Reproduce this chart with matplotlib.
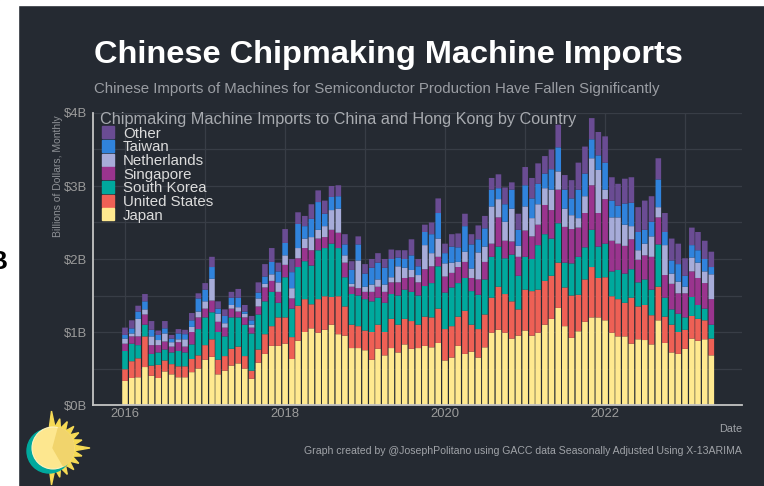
import numpy as np
import pandas as pd
import matplotlib
matplotlib.use("Agg")
import matplotlib.pyplot as plt
import matplotlib.dates as mdates
from matplotlib.patches import Rectangle, Circle, Wedge, Polygon

# ---------------- data (billions of US$, monthly) ----------------
months = pd.date_range("2016-01-01", periods=89, freq="MS")

japan = [0.33, 0.37, 0.38, 0.52, 0.40, 0.37, 0.46, 0.42, 0.38, 0.38, 0.45, 0.50,
         0.62, 0.66, 0.42, 0.47, 0.54, 0.57, 0.50, 0.36, 0.58, 0.70, 0.81, 0.81,
         0.84, 0.63, 0.88, 1.00, 1.05, 0.99, 1.03, 1.10, 0.97, 0.95, 0.78, 0.78,
         0.75, 0.62, 0.77, 0.68, 0.78, 0.72, 0.83, 0.77, 0.78, 0.81, 0.79, 0.85,
         0.61, 0.65, 0.81, 0.70, 0.73, 0.65, 0.79, 0.99, 1.03, 0.99, 0.91, 0.95,
         1.02, 0.95, 0.99, 1.10, 1.18, 1.33, 1.08, 0.92, 1.01, 1.14, 1.20, 1.20,
         1.16, 0.99, 0.94, 0.94, 0.84, 0.90, 0.89, 0.83, 1.16, 0.85, 0.72, 0.70,
         0.77, 0.91, 0.88, 0.90, 0.68]
united_states = [0.16, 0.23, 0.26, 0.42, 0.14, 0.18, 0.15, 0.14, 0.15, 0.15, 0.18, 0.18,
                 0.20, 0.24, 0.20, 0.20, 0.23, 0.23, 0.17, 0.11, 0.18, 0.27, 0.27, 0.39,
                 0.36, 0.30, 0.48, 0.45, 0.33, 0.46, 0.46, 0.38, 0.52, 0.40, 0.32, 0.30,
                 0.27, 0.38, 0.33, 0.32, 0.40, 0.38, 0.35, 0.38, 0.32, 0.40, 0.41, 0.47,
                 0.43, 0.43, 0.40, 0.59, 0.37, 0.39, 0.45, 0.48, 0.59, 0.53, 0.51, 0.36,
                 0.56, 0.61, 0.59, 0.60, 0.59, 0.62, 0.53, 0.58, 0.50, 0.58, 0.69, 0.54,
                 0.59, 0.50, 0.51, 0.46, 0.63, 0.45, 0.48, 0.40, 0.46, 0.36, 0.38, 0.30,
                 0.26, 0.31, 0.30, 0.26, 0.23]
south_korea = [0.25, 0.24, 0.18, 0.16, 0.16, 0.17, 0.15, 0.16, 0.21, 0.19, 0.20, 0.36,
               0.38, 0.37, 0.38, 0.27, 0.43, 0.40, 0.43, 0.51, 0.48, 0.45, 0.47, 0.20,
               0.55, 0.39, 0.53, 0.52, 0.53, 0.67, 0.66, 0.73, 0.66, 0.40, 0.42, 0.42,
               0.43, 0.42, 0.37, 0.40, 0.34, 0.40, 0.40, 0.40, 0.40, 0.42, 0.47, 0.58,
               0.50, 0.53, 0.46, 0.45, 0.46, 0.47, 0.48, 0.56, 0.55, 0.49, 0.64, 0.46,
               0.45, 0.44, 0.61, 0.64, 0.51, 0.54, 0.34, 0.44, 0.52, 0.44, 0.51, 0.43,
               0.46, 0.34, 0.40, 0.40, 0.39, 0.33, 0.35, 0.35, 0.58, 0.26, 0.21, 0.25,
               0.17, 0.26, 0.19, 0.16, 0.19]
singapore = [0.10, 0.10, 0.12, 0.14, 0.12, 0.10, 0.11, 0.08, 0.12, 0.08, 0.17, 0.16,
             0.12, 0.16, 0.14, 0.12, 0.12, 0.08, 0.10, 0.08, 0.11, 0.19, 0.15, 0.15,
             0.17, 0.14, 0.12, 0.18, 0.21, 0.16, 0.15, 0.19, 0.21, 0.20, 0.10, 0.10,
             0.10, 0.13, 0.15, 0.15, 0.16, 0.18, 0.16, 0.20, 0.18, 0.23, 0.23, 0.13,
             0.22, 0.20, 0.22, 0.22, 0.18, 0.21, 0.24, 0.18, 0.40, 0.24, 0.18, 0.26,
             0.36, 0.31, 0.28, 0.40, 0.39, 0.46, 0.49, 0.47, 0.40, 0.47, 0.61, 0.46,
             0.61, 0.42, 0.36, 0.38, 0.41, 0.31, 0.33, 0.45, 0.37, 0.31, 0.35, 0.28,
             0.33, 0.35, 0.37, 0.35, 0.35]
netherlands = [0.07, 0.04, 0.24, 0.07, 0.12, 0.07, 0.11, 0.06, 0.04, 0.10, 0.07, 0.08,
               0.10, 0.30, 0.11, 0.06, 0.05, 0.06, 0.05, 0.04, 0.11, 0.05, 0.09, 0.13,
               0.13, 0.14, 0.14, 0.13, 0.18, 0.12, 0.15, 0.27, 0.33, 0.10, 0.04, 0.38,
               0.07, 0.10, 0.10, 0.10, 0.07, 0.22, 0.14, 0.10, 0.10, 0.33, 0.18, 0.25,
               0.18, 0.14, 0.07, 0.14, 0.13, 0.37, 0.21, 0.51, 0.25, 0.26, 0.45, 0.15,
               0.33, 0.25, 0.28, 0.23, 0.28, 0.25, 0.25, 0.19, 0.13, 0.23, 0.37, 0.59,
               0.13, 0.32, 0.36, 0.29, 0.18, 0.13, 0.16, 0.28, 0.14, 0.41, 0.14, 0.16,
               0.09, 0.19, 0.21, 0.16, 0.34]
taiwan = [0.05, 0.07, 0.10, 0.11, 0.09, 0.07, 0.07, 0.05, 0.08, 0.07, 0.09, 0.18,
          0.16, 0.16, 0.07, 0.10, 0.10, 0.13, 0.03, 0.06, 0.08, 0.10, 0.17, 0.15,
          0.17, 0.22, 0.33, 0.17, 0.25, 0.38, 0.17, 0.18, 0.17, 0.15, 0.19, 0.22,
          0.18, 0.23, 0.23, 0.23, 0.25, 0.12, 0.12, 0.20, 0.12, 0.18, 0.26, 0.35,
          0.14, 0.22, 0.20, 0.35, 0.33, 0.18, 0.25, 0.23, 0.15, 0.24, 0.26, 0.22,
          0.29, 0.27, 0.28, 0.20, 0.28, 0.33, 0.26, 0.23, 0.39, 0.31, 0.26, 0.20,
          0.37, 0.23, 0.16, 0.29, 0.32, 0.25, 0.19, 0.20, 0.38, 0.18, 0.18, 0.24,
          0.15, 0.17, 0.17, 0.17, 0.10]
other = [0.10, 0.11, 0.08, 0.10, 0.12, 0.06, 0.10, 0.05, 0.06, 0.06, 0.10, 0.07,
         0.09, 0.14, 0.10, 0.09, 0.08, 0.12, 0.09, 0.06, 0.14, 0.17, 0.19, 0.12,
         0.19, 0.18, 0.16, 0.14, 0.20, 0.16, 0.18, 0.15, 0.15, 0.14, 0.12, 0.11,
         0.13, 0.12, 0.13, 0.12, 0.13, 0.10, 0.12, 0.22, 0.10, 0.10, 0.16, 0.20,
         0.13, 0.17, 0.19, 0.17, 0.14, 0.19, 0.17, 0.16, 0.19, 0.23, 0.10, 0.22,
         0.25, 0.28, 0.28, 0.24, 0.27, 0.31, 0.20, 0.25, 0.37, 0.37, 0.29, 0.32,
         0.36, 0.32, 0.30, 0.34, 0.35, 0.34, 0.40, 0.35, 0.29, 0.26, 0.30, 0.28,
         0.24, 0.24, 0.25, 0.25, 0.21]

series_names = ["Japan", "United States", "South Korea", "Singapore",
                "Netherlands", "Taiwan", "Other"]
series_values = [japan, united_states, south_korea, singapore,
                 netherlands, taiwan, other]
series_colors = ["#FFE98F", "#EE6055", "#00A99D", "#9A348E",
                 "#A7ACD9", "#3083DC", "#6A4C93"]

y_ticks = [0, 1, 2, 3, 4]
y_tick_labels = ["$0B", "$1B", "$2B", "$3B", "$4B"]
x_tick_years = [2016, 2018, 2020, 2022]

# ---------------- style ----------------
BG = "#252a32"
GRID = "#383d46"
W, H = 764, 486
FONT = ["Liberation Sans", "DejaVu Sans"]
plt.rcParams["font.family"] = FONT

fig = plt.figure(figsize=(W / 100, H / 100), dpi=100, facecolor=BG)

# main plot area (pixel geometry of the reference)
L, R, T, B = 93, 742, 113, 405
ax = fig.add_axes([L / W, 1 - B / H, (R - L) / W, (B - T) / H])
ax.set_facecolor(BG)

x = mdates.date2num(months)
bottom = np.zeros(len(months))
for name, vals, col in zip(series_names, series_values, series_colors):
    v = np.array(vals)
    ax.bar(x, v, width=25.5, bottom=bottom, color=col, linewidth=0, label=name,
           zorder=3, snap=False)
    bottom = bottom + v

base = mdates.date2num(pd.Timestamp("2016-01-01"))
ax.set_xlim(base - 0.4 * 365.25, base + 7.7125 * 365.25)
ax.set_ylim(0, 4)

ax.set_yticks(y_ticks)
ax.set_yticklabels(y_tick_labels)
ax.set_yticks([0.5, 1.5, 2.5, 3.5], minor=True)
ax.set_xticks([mdates.date2num(pd.Timestamp(f"{y}-01-01")) for y in x_tick_years])
ax.set_xticklabels([str(y) for y in x_tick_years])
ax.set_xticks([mdates.date2num(pd.Timestamp(f"{y}-01-01")) for y in [2017, 2019, 2021, 2023]],
              minor=True)
ax.grid(True, which="both", color=GRID, linewidth=0.9, zorder=0)
ax.set_axisbelow(True)
ax.tick_params(which="both", length=0)
ax.tick_params(axis="y", labelsize=9.4, labelcolor="#9b9b9b", pad=4)
ax.tick_params(axis="x", labelsize=9.4, labelcolor="#9b9b9b", pad=2)
for s in ["top", "right"]:
    ax.spines[s].set_visible(False)
for s in ["left", "bottom"]:
    ax.spines[s].set_color("#c4c4c4")
    ax.spines[s].set_linewidth(1.3)
    ax.spines[s].set_zorder(5)

# ---------------- overlay (pixel coordinates, y down) ----------------
ov = fig.add_axes([0, 0, 1, 1], zorder=10)
ov.set_xlim(0, W)
ov.set_ylim(H, 0)
ov.axis("off")
ov.patch.set_alpha(0)

# white margins of the screenshot
ov.add_patch(Rectangle((0, 0), 18, H, color="white", zorder=0))
ov.add_patch(Rectangle((0, 0), W, 5, color="white", zorder=0))
ov.text(7, 269, "B", color="black", fontsize=19, fontweight="bold",
        ha="right", va="baseline", zorder=2)

renderer = fig.canvas.get_renderer()


def fit_width(t, target):
    w = t.get_window_extent(renderer=renderer).width
    t.set_fontsize(t.get_fontsize() * target / w)


def fit_height(t, target):
    h = t.get_window_extent(renderer=renderer).height
    t.set_fontsize(t.get_fontsize() * target / h)


title = ov.text(94, 63, "Chinese Chipmaking Machine Imports", color="white",
                fontsize=24, fontweight="bold", ha="left", va="baseline")
fit_width(title, 590)
subtitle = ov.text(94, 93, "Chinese Imports of Machines for Semiconductor Production "
                   "Have Fallen Significantly", color="#9a9da3", fontsize=10.5,
                   ha="left", va="baseline")
fit_width(subtitle, 571)
inner = ov.text(100, 124, "Chipmaking Machine Imports to China and Hong Kong by Country",
                color="#a8abb0", fontsize=12, ha="left", va="baseline")
fit_width(inner, 479)

ylab = ov.text(58, 176, "Billions of Dollars, Monthly", color="#8e9196", fontsize=7.5,
               rotation=90, ha="center", va="center")
fit_height(ylab, 121)

ov.text(742, 432, "Date", color="#a0a3a8", fontsize=7.8, ha="right", va="baseline")
cap = ov.text(742, 454, "Graph created by @JosephPolitano using GACC data Seasonally "
              "Adjusted Using X-13ARIMA", color="#a0a3a8", fontsize=7.3,
              ha="right", va="baseline")
fit_width(cap, 437)

# legend (reverse stacking order, drawn as keys + labels)
row0, step = 132.3, 13.67
for k, (name, col) in enumerate(zip(series_names[::-1], series_colors[::-1])):
    cy = row0 + k * step
    ov.add_patch(Rectangle((101.5, cy - 6), 12.5, 12, color=col, zorder=3))
    ov.text(123, cy + 5.2, name, color="#dcdcdc", fontsize=10.8, ha="left",
            va="baseline", zorder=3)

# sun logo
cx, cy = 53, 448
angles = np.linspace(-100, 100, 27)
pts = []
for j, a in enumerate(angles):
    r = 21 if j % 2 == 0 else (37 if j in (1, 13, 25) else 30)
    pts.append((cx + r * np.cos(np.radians(a)), cy + r * np.sin(np.radians(a))))
ov.add_patch(Polygon([(cx, cy)] + pts, closed=True, color="#f6da55", zorder=3))
ov.add_patch(Circle((cx - 4, cy + 3), 22, color="#00a99d", zorder=4))
ov.add_patch(Circle((cx, cy), 21, color="#fde78f", ec="#fff3c0", lw=0.8, zorder=5))
ov.add_patch(Wedge((cx, cy), 21, -75, 60, color="#f1d46c", zorder=6))

fig.savefig("out.png", dpi=100, facecolor=BG)
